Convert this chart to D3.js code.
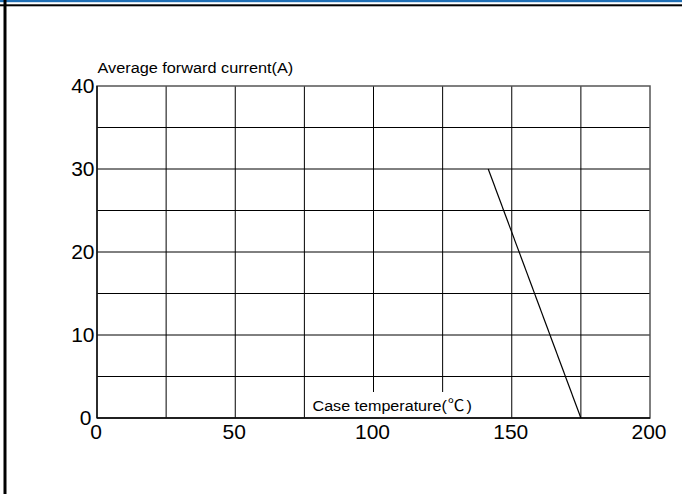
<!DOCTYPE html>
<html><head><meta charset="utf-8">
<script src="https://cdn.jsdelivr.net/npm/d3@7"></script>
<style>body{margin:0;background:#fff}svg{display:block}</style>
</head><body>
<script>
const xTicks = [0, 50, 100, 150, 200];
const yTicks = [0, 10, 20, 30, 40];
const xGrid = [25, 50, 75, 100, 125, 150, 175];
const yGrid = [5, 10, 15, 20, 25, 30, 35];
const deratingTemp = [141.5, 175];
const deratingCurrent = [30, 0];
const yTitle = "Average forward current(A)";
const xTitleMain = "Case temperature(";
const xTitleUnit = "\u2103";
const xTitleEnd = ")";

const W = 682, H = 495;
const svg = d3.select("body").append("svg").attr("width", W).attr("height", H);
const font = "'Liberation Sans', Arial, sans-serif";

// page frame decorations
svg.append("rect").attr("x", 0).attr("y", 0).attr("width", W).attr("height", 2.2).attr("fill", "#1f6fb5");
svg.append("rect").attr("x", 0).attr("y", 4.3).attr("width", W).attr("height", 2).attr("fill", "#000");
svg.append("rect").attr("x", 3.5).attr("y", 0).attr("width", 3).attr("height", 494).attr("fill", "#000");

const x = d3.scaleLinear().domain([0, 200]).range([97, 650]);
const y = d3.scaleLinear().domain([0, 40]).range([418, 86]);

const g = svg.append("g");
// grid
g.selectAll("line.vg").data(xGrid).join("line")
  .attr("x1", d => x(d)).attr("x2", d => x(d)).attr("y1", y(0)).attr("y2", y(40))
  .attr("stroke", "#000").attr("stroke-width", 1);
g.selectAll("line.hg").data(yGrid).join("line")
  .attr("x1", x(0)).attr("x2", x(200)).attr("y1", d => y(d)).attr("y2", d => y(d))
  .attr("stroke", "#000").attr("stroke-width", 1);

// white box behind x title
g.append("rect").attr("x", x(75) + 1.5).attr("y", 392).attr("width", 172).attr("height", y(0) - 392)
  .attr("fill", "#fff");

// frame
g.append("rect").attr("x", x(0)).attr("y", y(40)).attr("width", x(200) - x(0)).attr("height", y(0) - y(40))
  .attr("fill", "none").attr("stroke", "#555").attr("stroke-width", 1.5);
g.append("line").attr("x1", x(0)).attr("x2", x(200)).attr("y1", y(0)).attr("y2", y(0)).attr("stroke", "#000").attr("stroke-width", 1.3);
g.append("line").attr("x1", x(0)).attr("x2", x(0)).attr("y1", y(0)).attr("y2", y(40)).attr("stroke", "#000").attr("stroke-width", 1.3);

// derating line
const pts = deratingTemp.map((t, i) => [t, deratingCurrent[i]]);
g.append("path").datum(pts)
  .attr("d", d3.line().x(d => x(d[0])).y(d => y(d[1])))
  .attr("fill", "none").attr("stroke", "#000").attr("stroke-width", 1.2);

// y tick labels
g.selectAll("g.yt").data(yTicks).join("g")
  .attr("transform", d => `translate(${d === 0 ? 91.5 : 94.5},${y(d) + 7.3}) scale(1.05,1)`)
  .append("text")
  .attr("text-anchor", "end").attr("font-family", font).attr("font-size", 20)
  .text(d => d);
// x tick labels
g.selectAll("g.xt").data(xTicks).join("g")
  .attr("transform", d => `translate(${x(d) - 1},439.3) scale(1.05,1)`)
  .append("text")
  .attr("text-anchor", "middle").attr("font-family", font).attr("font-size", 20)
  .text(d => d);

svg.append("g").attr("transform", "translate(97.5,72.7) scale(1.05,1)")
  .append("text").attr("font-family", font).attr("font-size", 15.5).text(yTitle);

const xt = svg.append("g").attr("transform", "translate(312.5,410.7) scale(1.04,1)")
  .append("text").attr("font-family", font).attr("font-size", 15.5);
xt.append("tspan").text(xTitleMain);
xt.append("tspan").attr("dx", 1).attr("font-family", "'Noto Sans CJK SC', sans-serif").attr("font-size", 16).text(xTitleUnit);
xt.append("tspan").attr("dx", 2).text(xTitleEnd);
</script>
</body></html>
